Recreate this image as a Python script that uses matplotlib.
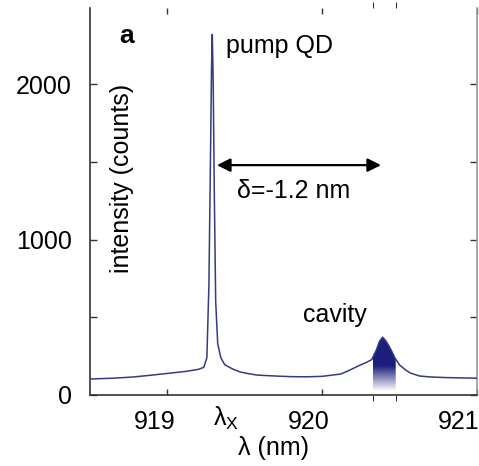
import numpy as np
import matplotlib
matplotlib.use("Agg")
import matplotlib.pyplot as plt
from matplotlib.transforms import ScaledTranslation

plt.rcParams['font.family'] = ['Liberation Sans', 'DejaVu Sans']
plt.rcParams['mathtext.fontset'] = 'custom'
plt.rcParams['mathtext.rm'] = 'Liberation Sans'
plt.rcParams['mathtext.it'] = 'Liberation Sans'

# spectrum: wavelength (nm) and intensity (counts)
wl = [918.50, 918.65, 918.78, 918.90, 919.02, 919.12, 919.20, 919.235, 919.255,
      919.268, 919.278, 919.285, 919.29, 919.296, 919.303, 919.312, 919.325,
      919.345, 919.37, 919.42, 919.47, 919.52, 919.58, 919.70, 919.80, 919.90,
      920.00, 920.12, 920.18, 920.24, 920.29, 920.32, 920.35, 920.37, 920.39,
      920.41, 920.43, 920.45, 920.47, 920.50, 920.54, 920.57, 920.63, 920.70,
      920.80, 920.90, 921.00]
counts = [103, 108, 116, 128, 141, 152, 165, 178, 240,
          700, 1500, 2100, 2320, 2000, 1300, 600, 330,
          240, 195, 168, 148, 138, 128, 122, 118, 117,
          120, 135, 161, 190, 212, 228, 290, 345, 372,
          350, 318, 280, 238, 193, 160, 141, 122, 116,
          112, 110, 108]

# cavity band, peak and detuning arrow
cav_lo, cav_hi = 920.325, 920.475
lam_x = 919.29
lam_c = 920.37
arrow_y = 1479

x_ticks = [919, 920, 921]
y_ticks = [0, 500, 1000, 1500, 2000]
y_labels = ['0', '', '1000', '', '2000']

line_col = '#353b7e'
navy = '#1c1f7c'

fig = plt.figure(figsize=(4.79, 4.66), dpi=100)
ax = fig.add_axes([90/479, 71/466, 387/479, 387/466])

ax.plot(wl, counts, color=line_col, lw=1.1, zorder=3)

# gradient fill under the cavity mode
xs = np.linspace(cav_lo, cav_hi, 60)
ys = np.interp(xs, wl, counts)
poly = ax.fill_between(xs, 0, ys, color='none', lw=0)
grad_y = np.linspace(0, 400, 200)
alpha = np.clip((grad_y - 25) / 160, 0, 1)
rgba = np.zeros((200, 1, 4))
rgba[..., :3] = matplotlib.colors.to_rgb(navy)
rgba[:, 0, 3] = alpha
img = ax.imshow(rgba, extent=[cav_lo, cav_hi, 0, 400], origin='lower',
                aspect='auto', zorder=2, interpolation='bilinear')
img.set_clip_path(poly.get_paths()[0], transform=ax.transData)

ax.annotate('', xy=(lam_x + 0.03, arrow_y), xytext=(lam_c + 0.01, arrow_y),
            arrowprops=dict(arrowstyle='<|-|>', color='black', lw=1.6,
                            mutation_scale=20, shrinkA=0, shrinkB=0))

ax.set_xlim(918.5, 921.0)
ax.set_ylim(0, 2490)

ax.set_xticks(x_ticks)
ax.set_xticks([cav_lo, cav_hi], minor=True)
ax.set_yticks(y_ticks)
ax.set_yticklabels(y_labels)

ax.tick_params(axis='both', direction='in', labelsize=18, length=4, width=1,
               color='#333333')
ax.tick_params(axis='x', which='both', top=True, pad=11)
ax.tick_params(axis='x', which='minor', length=4)
ax.tick_params(axis='y', right=True, pad=13, length=5)

# tick labels sit a little left of their ticks
labels = ax.get_xticklabels()
for i, lab in enumerate(labels):
    dx = -13 if i < len(labels) - 1 else -18
    lab.set_transform(lab.get_transform()
                      + ScaledTranslation(dx/100, 0, fig.dpi_scale_trans))

ax.spines['top'].set_visible(False)
ax.spines['left'].set_color('#333333')
ax.spines['bottom'].set_color('#333333')
ax.spines['right'].set_color('#999999')
for s in ['left', 'bottom', 'right']:
    ax.spines[s].set_linewidth(1.2)

ax.set_xlabel('λ (nm)', fontsize=18)
ax.xaxis.set_label_coords(0.475, -0.105)

ax.text(0.083, 0.56, 'intensity (counts)', transform=ax.transAxes,
        rotation=90, ha='center', va='center', fontsize=18)
ax.text(0.095, 0.928, 'a', transform=ax.transAxes, fontsize=19,
        fontweight='bold', ha='center', va='center')
ax.text(919.38, 2244, 'pump QD', fontsize=18, ha='left', va='center')
ax.text(919.45, 1312, 'δ=-1.2 nm', fontsize=18, ha='left', va='center')
ax.text(919.876, 514, 'cavity', fontsize=18, ha='left', va='center')
ax.text(919.38, -150, r'$\lambda_X$', fontsize=18, ha='center', va='center')

fig.savefig('out.png', dpi=100)
